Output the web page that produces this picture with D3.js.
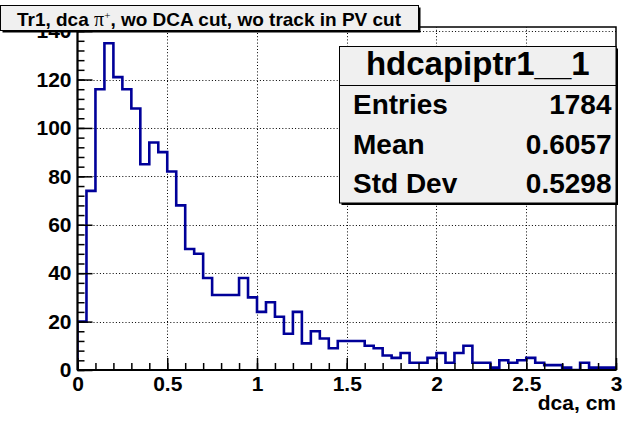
<!DOCTYPE html>
<html>
<head>
<meta charset="utf-8">
<script src="https://cdn.jsdelivr.net/npm/d3@7"></script>
<style>
  body { margin: 0; background: #fff; }
  svg { display: block; }
  text { font-family: "Liberation Sans", Arial, Helvetica, sans-serif; font-weight: bold; fill: #000; }
</style>
</head>
<body>
<svg id="chart" width="626" height="421"></svg>
<script>
// Histogram binning and contents (60 bins of 0.05 cm)
const binLow = 0;
const binWidth = 0.05;
const counts = [
  20, 74, 116, 135, 121, 116, 108, 85, 94, 90,
  82, 68, 50, 48, 38, 31, 31, 31, 38, 30,
  24, 28, 22, 15, 24, 11, 16, 13, 9, 12,
  12, 12, 10, 9, 6, 5, 7, 3, 3, 5,
  7, 3, 7, 10, 3, 3, 1, 4, 3, 4,
  5, 3, 2, 2, 1, 0, 3, 1, 1, 1
];
const xTicks = [0, 0.5, 1, 1.5, 2, 2.5, 3];
const xTickLabels = ["0", "0.5", "1", "1.5", "2", "2.5", "3"];
const yTicks = [0, 20, 40, 60, 80, 100, 120, 140];
const xMinorTicks = d3.range(0, 31).map(i => i / 10);
const yMinorTicks = d3.range(0, 36).map(i => i * 4);
const statsLabels = ["Entries", "Mean", "Std Dev"];
const statsValues = ["1784", "0.6057", "0.5298"];
const histName = "hdcapiptr1__1";
const xTitle = "dca, cm";

const svg = d3.select("#chart");
const X0 = 77.5, X1 = 616, Y0 = 370, Y1 = 27;
const x = d3.scaleLinear().domain([0, 3]).range([X0, X1]);
const y = d3.scaleLinear().domain([0, 141.7]).range([Y0, Y1]);

// dotted grid at major ticks
const grid = svg.append("g").attr("stroke", "#000").attr("stroke-width", 1)
  .attr("stroke-dasharray", "1,2.2");
grid.selectAll("line.gx").data(xTicks.slice(1, -1)).join("line")
  .attr("x1", d => Math.round(x(d)) + 0.5).attr("x2", d => Math.round(x(d)) + 0.5)
  .attr("y1", Y0).attr("y2", Y1);
grid.selectAll("line.gy").data(yTicks.slice(1)).join("line")
  .attr("y1", d => Math.round(y(d)) + 0.5).attr("y2", d => Math.round(y(d)) + 0.5)
  .attr("x1", X0).attr("x2", X1);

// histogram outline
const pts = [[binLow, 0]];
counts.forEach((c, i) => {
  const lo = binLow + i * binWidth, hi = lo + binWidth;
  pts.push([lo, c], [hi, c]);
});
pts.push([binLow + counts.length * binWidth, 0]);
svg.append("clipPath").attr("id", "frameClip").append("rect")
  .attr("x", X0).attr("y", Y1).attr("width", X1 - X0).attr("height", Y0 - Y1);
svg.append("path")
  .attr("clip-path", "url(#frameClip)")
  .attr("d", d3.line().x(d => x(d[0])).y(d => y(d[1]))(pts))
  .attr("fill", "none").attr("stroke", "#000099").attr("stroke-width", 2.6)
  .attr("stroke-linejoin", "miter");

// frame
svg.append("rect").attr("x", X0).attr("y", Y1).attr("width", X1 - X0).attr("height", Y0 - Y1)
  .attr("fill", "none").attr("stroke", "#000").attr("stroke-width", 1.5);

// x axis: minor and major ticks pointing into the frame
const gx = svg.append("g").attr("transform", `translate(0,${Y0})`);
gx.call(d3.axisBottom(x).tickValues(xMinorTicks).tickSizeInner(-7).tickSizeOuter(0).tickFormat(""));
gx.selectAll(".tick line").attr("stroke-width", 1.5);
const gxM = svg.append("g").attr("transform", `translate(0,${Y0})`);
gxM.call(d3.axisBottom(x).tickValues(xTicks).tickSizeInner(-12).tickSizeOuter(0)
  .tickPadding(6).tickFormat((d, i) => xTickLabels[i]));
gxM.selectAll(".tick line").attr("stroke-width", 1.5);
gxM.selectAll(".tick text").attr("font-size", 21).attr("font-family", null);
svg.selectAll(".domain").remove();

// y axis
const gy = svg.append("g").attr("transform", `translate(${X0},0)`);
gy.call(d3.axisLeft(y).tickValues(yMinorTicks).tickSizeInner(-7).tickSizeOuter(0).tickFormat(""));
gy.selectAll(".tick line").attr("stroke-width", 1.5);
const gyM = svg.append("g").attr("transform", `translate(${X0},0)`);
gyM.call(d3.axisLeft(y).tickValues(yTicks).tickSizeInner(-15).tickSizeOuter(0).tickPadding(6));
gyM.selectAll(".tick line").attr("stroke-width", 1.5);
gyM.selectAll(".tick text").attr("font-size", 21).attr("font-family", null);
svg.selectAll(".domain").remove();

// axis lines on top
svg.append("line").attr("x1", X0).attr("x2", X1).attr("y1", Y0).attr("y2", Y0)
  .attr("stroke", "#000").attr("stroke-width", 2);
svg.append("line").attr("x1", X0).attr("x2", X0).attr("y1", Y0).attr("y2", Y1)
  .attr("stroke", "#000").attr("stroke-width", 2);

// x axis title
svg.append("text").attr("x", X1).attr("y", 410).attr("text-anchor", "end")
  .attr("font-size", 21).text(xTitle);

// title pave
svg.append("rect").attr("x", 2.5).attr("y", 7.5).attr("width", 418).attr("height", 25).attr("fill", "#000");
svg.append("rect").attr("x", 0.5).attr("y", 5.5).attr("width", 418).attr("height", 25)
  .attr("fill", "#f0f0f0").attr("stroke", "#000").attr("stroke-width", 1);
const title = svg.append("text").attr("x", 209).attr("y", 25.5).attr("text-anchor", "middle")
  .attr("font-size", 19);
title.append("tspan").text("Tr1, dca  ");
title.append("tspan").attr("font-family", "'Liberation Serif', 'DejaVu Serif', serif")
  .attr("font-weight", "normal").attr("font-size", 20).text("π");
title.append("tspan").attr("font-family", "'Liberation Serif', serif").attr("font-weight", "normal")
  .attr("font-size", 11).attr("dy", -7).text("+");
title.append("tspan").attr("dy", 7).text(", wo DCA cut, wo track in PV cut");

// statistics box
const SX0 = 339.5, SX1 = 616, SY0 = 46.5, SY1 = 203;
svg.append("rect").attr("x", SX0 + 2).attr("y", SY0 + 2).attr("width", SX1 - SX0).attr("height", SY1 - SY0).attr("fill", "#000");
svg.append("rect").attr("x", SX0).attr("y", SY0).attr("width", SX1 - SX0).attr("height", SY1 - SY0)
  .attr("fill", "#f0f0f0").attr("stroke", "#000").attr("stroke-width", 1);
svg.append("line").attr("x1", SX0).attr("x2", SX1).attr("y1", 85.5).attr("y2", 85.5)
  .attr("stroke", "#000").attr("stroke-width", 1);
svg.append("text").attr("x", (SX0 + SX1) / 2).attr("y", 75).attr("text-anchor", "middle")
  .attr("font-size", 33).text(histName);
const rowY = [114, 153.5, 193];
svg.selectAll("text.slab").data(statsLabels).join("text").attr("class", "slab")
  .attr("x", 353).attr("y", (d, i) => rowY[i]).attr("font-size", 28).text(d => d);
svg.selectAll("text.sval").data(statsValues).join("text").attr("class", "sval")
  .attr("x", 611.5).attr("y", (d, i) => rowY[i]).attr("text-anchor", "end")
  .attr("font-size", 28).text(d => d);
</script>
</body>
</html>
